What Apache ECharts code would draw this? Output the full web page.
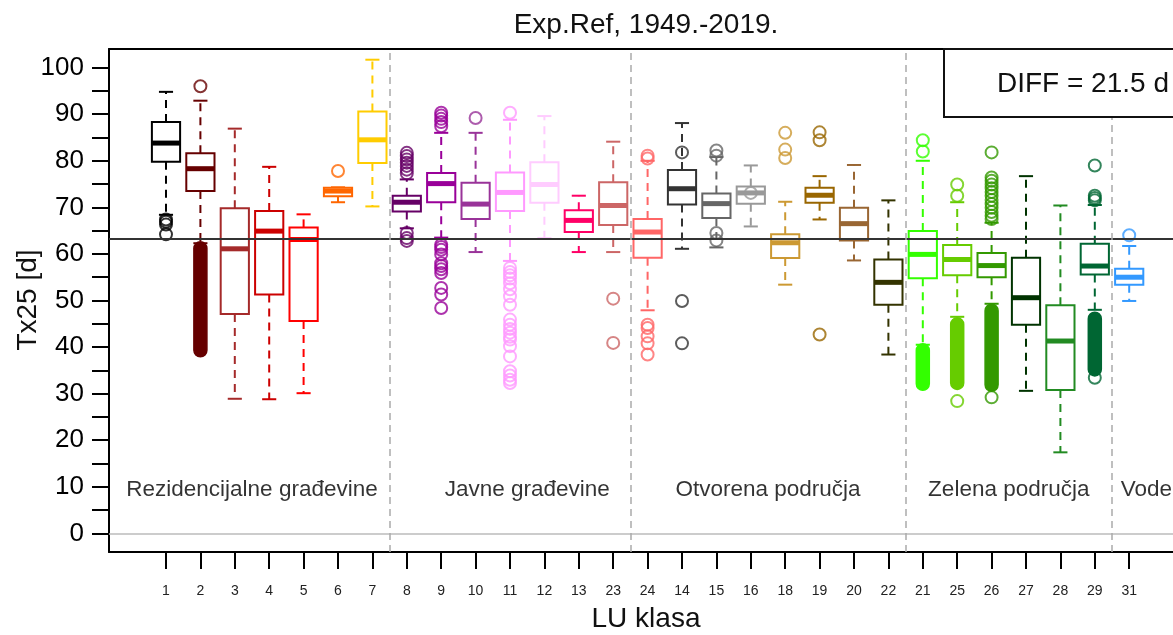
<!DOCTYPE html>
<html>
<head>
<meta charset="utf-8">
<script src="https://cdn.jsdelivr.net/npm/echarts@6/dist/echarts.min.js"></script>
<style>
  html, body { margin: 0; background: #fff; }
  #main { width: 1173px; height: 635px; }
</style>
</head>
<body>
<div id="main"></div>
<script>
// LU klase, redom kako su na osi x
var classes = ['1','2','3','4','5','6','7','8','9','10','11','12','13','23','24','14','15','16','18','19','20','22','21','25','26','27','28','29','31'];
var boxColors = ['#000000','#660000','#a52a2a','#cc0000','#ff0000','#ff6600','#ffcc00',
  '#660066','#990099','#993399','#ff99ff','#ffccff','#ff0066','#cc6666',
  '#ff6666','#333333','#666666','#999999','#cc9933','#996600','#996633','#333300',
  '#33ff00','#66cc00','#339900','#003300','#228b22','#006633','#3399ff'];

// statistika boxplota (Tx25, dani)
var whiskerLow  = [68.4,62.3,28.9,28.8,30.1,71.1,70.2, 65.5,63.5,60.4,58.5,63.4,60.4,60.4, 47.9,61.1,61.4,65.9,53.4,67.4,58.6,38.4, 40.5,46.5,49.3,30.6,17.4,48.0,49.9];
var q1          = [79.8,73.5,47.1,51.3,45.6,72.4,79.5, 69.1,71.1,67.5,69.2,71.0,64.7,66.2, 59.2,70.6,67.7,70.8,59.1,71.0,62.9,49.1, 54.8,55.4,55.0,44.8,30.8,55.6,53.4];
var median      = [83.8,78.3,61.1,64.9,63.1,73.5,84.5, 71.1,75.1,70.7,73.2,74.9,67.2,70.4, 64.7,74.0,70.8,73.1,62.4,72.6,66.5,53.9, 59.9,58.8,57.5,50.6,41.3,57.4,55.0];
var q3          = [88.3,81.6,69.8,69.2,65.7,74.2,90.6, 72.5,77.4,75.3,77.5,79.7,69.4,75.4, 67.5,78.0,73.0,74.5,64.2,74.2,69.9,58.8, 64.9,61.9,60.2,59.2,49.0,62.2,56.8];
var whiskerHigh = [94.8,92.9,86.9,78.7,68.5,74.3,101.7, 76.0,86.0,86.0,88.8,89.6,72.5,84.1, 80.0,88.1,80.8,79.0,71.2,76.7,79.1,71.5, 80.0,71.1,66.7,76.7,70.4,70.5,61.7];

// pojedinačni outlieri po klasi (indeks klase -> vrijednosti)
var outliers = {
  0: [67.4, 66.9, 66.3, 64.2],
  1: [96.0],
  5: [77.8],
  7: [81.7, 81.0, 80.3, 79.6, 78.9, 78.1, 77.3, 64.5, 63.4, 62.8],
  8: [90.3, 89.7, 89.0, 88.3, 87.4, 62.0, 61.5, 60.9, 59.9, 58.0, 57.4, 56.7, 55.9, 52.7, 51.3, 48.4],
  9: [89.2],
  10: [90.3, 57.0, 56.1, 55.4, 54.7, 53.7, 52.4, 50.9, 49.1, 45.9, 44.8, 43.9, 43.1, 42.2, 41.6, 40.2, 38.0, 34.8, 33.9, 33.0, 32.3],
  13: [50.4, 40.9],
  14: [81.1, 80.5, 44.8, 44.1, 42.3, 40.8, 38.4],
  15: [81.8, 49.9, 40.8],
  16: [82.2, 81.1, 64.5, 62.9],
  17: [73.1],
  18: [86.0, 82.4, 80.6],
  19: [86.1, 84.4, 42.7],
  22: [84.4, 82.0],
  23: [74.9, 72.5, 28.4],
  24: [81.8, 76.4, 75.7, 74.9, 74.1, 73.3, 72.5, 71.6, 70.7, 69.9, 69.0, 68.2, 67.5, 29.2],
  27: [79.0, 72.5, 72.0, 71.5, 33.4],
  28: [64.0]
};
// gusti nizovi outliera: [indeks klase, najniži, najviši]
var denseOutliers = [[1, 39.3, 61.2], [22, 32.1, 39.3], [23, 32.3, 44.9], [24, 31.9, 47.8], [27, 35.2, 46.1]];

var groupNames = ['Rezidencijalne građevine', 'Javne građevine', 'Otvorena područja', 'Zelena područja', 'Vode'];
var groupCenters = [2.5, 10.5, 17.5, 24.5, 28.5];
var groupSeparators = [6.5, 13.5, 21.5, 27.5];
var groupLabelY = 9.4;
var refLine = 63.3;
var yTicks = [0,5,10,15,20,25,30,35,40,45,50,55,60,65,70,75,80,85,90,95,100];
var yLabels = [0,10,20,30,40,50,60,70,80,90,100];
var titleText = 'Exp.Ref, 1949.-2019.';
var diffText = 'DIFF = 21.5 d';

var FONT = '"Liberation Sans", Arial, Helvetica, sans-serif';
var chart = echarts.init(document.getElementById('main'));

var boxData = classes.map(function (c, i) {
  return [i, whiskerLow[i], q1[i], median[i], q3[i], whiskerHigh[i]];
});
var outlierData = [];
Object.keys(outliers).forEach(function (k) {
  var i = +k;
  outliers[k].forEach(function (v) {
    outlierData.push({ value: [i, v], itemStyle: { borderColor: boxColors[i] } });
  });
});
var xIdx = classes.map(function (c, i) { return i; });

var plotLeft = 109, plotWidth = 1124, step = 34.4;
var xMin = -1.657;
var xMax = xMin + plotWidth / step;

chart.setOption({
  animation: false,
  backgroundColor: '#fff',
  textStyle: { fontFamily: FONT },
  grid: { left: plotLeft, top: 49, width: plotWidth, height: 503, containLabel: false, outerBoundsMode: 'none' },
  xAxis: [{
    type: 'value', min: xMin, max: xMax, position: 'bottom',
    axisLine: { show: true, onZero: false, lineStyle: { color: '#000', width: 2 } },
    axisTick: { show: true, customValues: xIdx, length: 17, lineStyle: { color: '#000', width: 2 } },
    axisLabel: {
      customValues: xIdx, margin: 32, fontSize: 14, color: '#222', fontFamily: FONT,
      formatter: function (v) { return classes[Math.round(v)]; }
    },
    splitLine: { show: false }
  }, {
    type: 'value', min: xMin, max: xMax, position: 'top',
    axisLine: { show: true, onZero: false, lineStyle: { color: '#000', width: 2 } },
    axisTick: { show: false }, axisLabel: { show: false }, splitLine: { show: false }
  }],
  yAxis: {
    type: 'value', min: -4, max: 104,
    axisLine: { show: true, onZero: false, lineStyle: { color: '#000', width: 2 } },
    axisTick: { show: true, customValues: yTicks, length: 17, lineStyle: { color: '#000', width: 2 } },
    axisLabel: { customValues: yLabels, fontSize: 26, color: '#000', margin: 25, fontFamily: FONT },
    splitLine: { show: false }
  },
  series: [{
    // nazivi skupina, pomoćne linije ispod boxeva
    type: 'scatter',
    silent: true,
    symbolSize: 0,
    data: groupNames.map(function (n, k) { return { name: n, value: [groupCenters[k], groupLabelY] }; }),
    label: { show: true, position: 'inside', formatter: '{b}', fontSize: 22.5, color: '#000', fontFamily: FONT },
    markLine: {
      silent: true, symbol: 'none', label: { show: false },
      data: [
        { yAxis: 0, lineStyle: { color: '#bbbbbb', width: 1.5, type: 'solid' } },
        { yAxis: refLine, lineStyle: { color: '#333', width: 2, type: 'solid' } }
      ].concat(groupSeparators.map(function (s) {
        return { xAxis: s, lineStyle: { color: '#aaaaaa', width: 1.5, type: [7, 5] } };
      }))
    },
    z: 1
  }, {
    // boxevi s crtkanim brkovima
    type: 'custom',
    silent: true,
    data: boxData,
    encode: { x: 0, y: [1, 2, 3, 4, 5] },
    renderItem: function (params, api) {
      var i = api.value(0);
      var lo = api.coord([i, api.value(1)]);
      var b1 = api.coord([i, api.value(2)]);
      var md = api.coord([i, api.value(3)]);
      var b3 = api.coord([i, api.value(4)]);
      var hi = api.coord([i, api.value(5)]);
      var band = api.size([1, 0])[0];
      var bw = band * 0.82, cw = bw * 0.5;
      var x = lo[0];
      var col = boxColors[params.dataIndex];
      var solid = { stroke: col, lineWidth: 2 };
      var dash = { stroke: col, lineWidth: 2, lineDash: [8, 6] };
      return {
        type: 'group',
        children: [
          { type: 'line', shape: { x1: x, y1: b3[1], x2: x, y2: hi[1] }, style: dash },
          { type: 'line', shape: { x1: x, y1: b1[1], x2: x, y2: lo[1] }, style: dash },
          { type: 'line', shape: { x1: x - cw / 2, y1: hi[1], x2: x + cw / 2, y2: hi[1] }, style: solid },
          { type: 'line', shape: { x1: x - cw / 2, y1: lo[1], x2: x + cw / 2, y2: lo[1] }, style: solid },
          { type: 'rect', shape: { x: x - bw / 2, y: b3[1], width: bw, height: b1[1] - b3[1] },
            style: { fill: '#fff', stroke: col, lineWidth: 2 } },
          { type: 'line', shape: { x1: x - bw / 2, y1: md[1], x2: x + bw / 2, y2: md[1] },
            style: { stroke: col, lineWidth: 5 } }
        ]
      };
    },
    z: 2
  }, {
    // gusti stupci outliera
    type: 'custom',
    silent: true,
    data: denseOutliers,
    encode: { x: 0, y: [1, 2] },
    renderItem: function (params, api) {
      var i = api.value(0);
      var a = api.coord([i, api.value(1)]);
      var b = api.coord([i, api.value(2)]);
      var r = 6.5;
      var col = boxColors[i];
      return {
        type: 'rect',
        shape: { x: a[0] - r, y: b[1] - r, width: 2 * r, height: a[1] - b[1] + 2 * r, r: r },
        style: { fill: col, stroke: col, lineWidth: 1.5 }
      };
    },
    z: 3
  }, {
    type: 'scatter',
    silent: true,
    symbol: 'circle',
    symbolSize: 12,
    itemStyle: { color: 'rgba(0,0,0,0)', borderWidth: 2 },
    data: outlierData,
    z: 4
  }],
  graphic: [
    { type: 'text', x: 646, y: 25, z: 10,
      style: { text: titleText, font: '28px ' + FONT, fill: '#111', textAlign: 'center', textVerticalAlign: 'middle' } },
    { type: 'text', x: 28, y: 300, rotation: Math.PI / 2, z: 10,
      style: { text: 'Tx25 [d]', font: '28px ' + FONT, fill: '#111', textAlign: 'center', textVerticalAlign: 'middle' } },
    { type: 'text', x: 646, y: 619, z: 10,
      style: { text: 'LU klasa', font: '28px ' + FONT, fill: '#111', textAlign: 'center', textVerticalAlign: 'middle' } },
    { type: 'rect', z: 20, shape: { x: 944, y: 49, width: 280, height: 68 },
      style: { fill: '#fff', stroke: '#111', lineWidth: 2 } },
    { type: 'text', x: 997, y: 84, z: 21,
      style: { text: diffText, font: '28px ' + FONT, fill: '#111', textAlign: 'left', textVerticalAlign: 'middle' } }
  ]
});
</script>
</body>
</html>
